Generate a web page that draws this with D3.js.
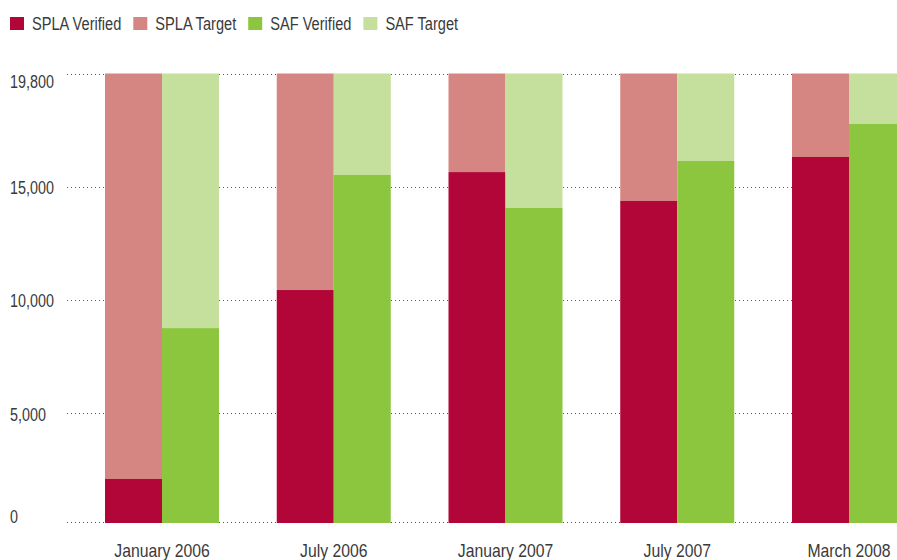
<!DOCTYPE html>
<html>
<head>
<meta charset="utf-8">
<script src="https://cdn.jsdelivr.net/npm/d3@7"></script>
<style>
  html, body { margin: 0; padding: 0; background: #fff; }
  svg { display: block; }
  text { font-family: "Liberation Sans", Arial, sans-serif; fill: #3a3a3a; }
</style>
</head>
<body>
<svg id="chart" width="897" height="560"></svg>
<script>
// ---- data ----
const periods = ["January 2006", "July 2006", "January 2007", "July 2007", "March 2008"];
const programs = ["SPLA", "SAF"];
const splaVerified = [1980, 10440, 15620, 14370, 16260];
const splaTarget   = [19800, 19800, 19800, 19800, 19800];
const safVerified  = [8760, 15500, 14060, 16090, 17660];
const safTarget    = [19800, 19800, 19800, 19800, 19800];
const yTicks = [0, 5000, 10000, 15000, 19800];
const legendLabels = ["SPLA Verified", "SPLA Target", "SAF Verified", "SAF Target"];
const legendColors = ["#B10637", "#D68682", "#8CC63F", "#C5DF9D"];

// ---- layout ----
const W = 897, H = 560;
const FS = 17.5;
const svg = d3.select("#chart");

// the original's tick spacing is not uniform; follow its gridlines piecewise
const y = d3.scaleLinear().domain(yTicks).range([522, 413.3, 300, 186.7, 73.5]);
const x = d3.scaleBand().domain(periods).range([105, 906]).paddingInner(0.3362).paddingOuter(0);
const xInner = d3.scaleBand().domain(programs).range([0, x.bandwidth()]).padding(0);

function narrowText(sel, tx, ty, sx) {
  sel.attr("x", 0).attr("y", 0)
     .attr("transform", (d, i) => `translate(${tx(d, i)},${ty(d, i)}) scale(${sx},1)`)
     .attr("font-size", FS);
}

// gridlines
svg.append("g").selectAll("line").data(yTicks).join("line")
  .attr("x1", 67).attr("x2", W)
  .attr("y1", d => Math.round(y(d)) + 0.5).attr("y2", d => Math.round(y(d)) + 0.5)
  .attr("stroke", "#555").attr("stroke-width", 1).attr("stroke-dasharray", "1,3");

// y labels
const yOff = [1.3, 7.3, 7.3, 7.3, 14.0];
svg.append("g").selectAll("text").data(yTicks).join("text")
  .call(narrowText, () => 10, (d, i) => y(d) + yOff[i], 0.82)
  .text(d => d3.format(",")(d));

// bars
const series = [
  { prog: "SPLA", verified: splaVerified, target: splaTarget, cV: legendColors[0], cT: legendColors[1] },
  { prog: "SAF", verified: safVerified, target: safTarget, cV: legendColors[2], cT: legendColors[3] }
];
const bars = svg.append("g");
series.forEach(s => {
  const g = bars.append("g");
  const data = periods.map((p, i) => ({ p, v: s.verified[i], t: s.target[i] }));
  g.selectAll("rect.t").data(data).join("rect").attr("class", "t")
    .attr("x", d => x(d.p) + xInner(s.prog))
    .attr("width", xInner.bandwidth())
    .attr("y", d => y(d.t))
    .attr("height", d => y(d.v) - y(d.t))
    .attr("fill", s.cT);
  g.selectAll("rect.v").data(data).join("rect").attr("class", "v")
    .attr("x", d => x(d.p) + xInner(s.prog))
    .attr("width", xInner.bandwidth())
    .attr("y", d => y(d.v))
    .attr("height", d => y(0) + 1 - y(d.v))
    .attr("fill", s.cV);
});

// x labels
svg.append("g").selectAll("text").data(periods).join("text")
  .call(narrowText, d => x(d) + x.bandwidth() / 2, () => 556.5, 0.9)
  .attr("text-anchor", "middle")
  .text(d => d);

// legend
const leg = svg.append("g");
let lx = 10;
const LS = 0.835;
legendLabels.forEach((lab, i) => {
  leg.append("rect").attr("x", lx).attr("y", 17).attr("width", 14).attr("height", 13).attr("fill", legendColors[i]);
  const t = leg.append("text")
    .attr("transform", `translate(${lx + 22},29.5) scale(${LS},1)`)
    .attr("font-size", FS).text(lab);
  lx = lx + 22 + t.node().getComputedTextLength() * LS + 12;
});
</script>
</body>
</html>
